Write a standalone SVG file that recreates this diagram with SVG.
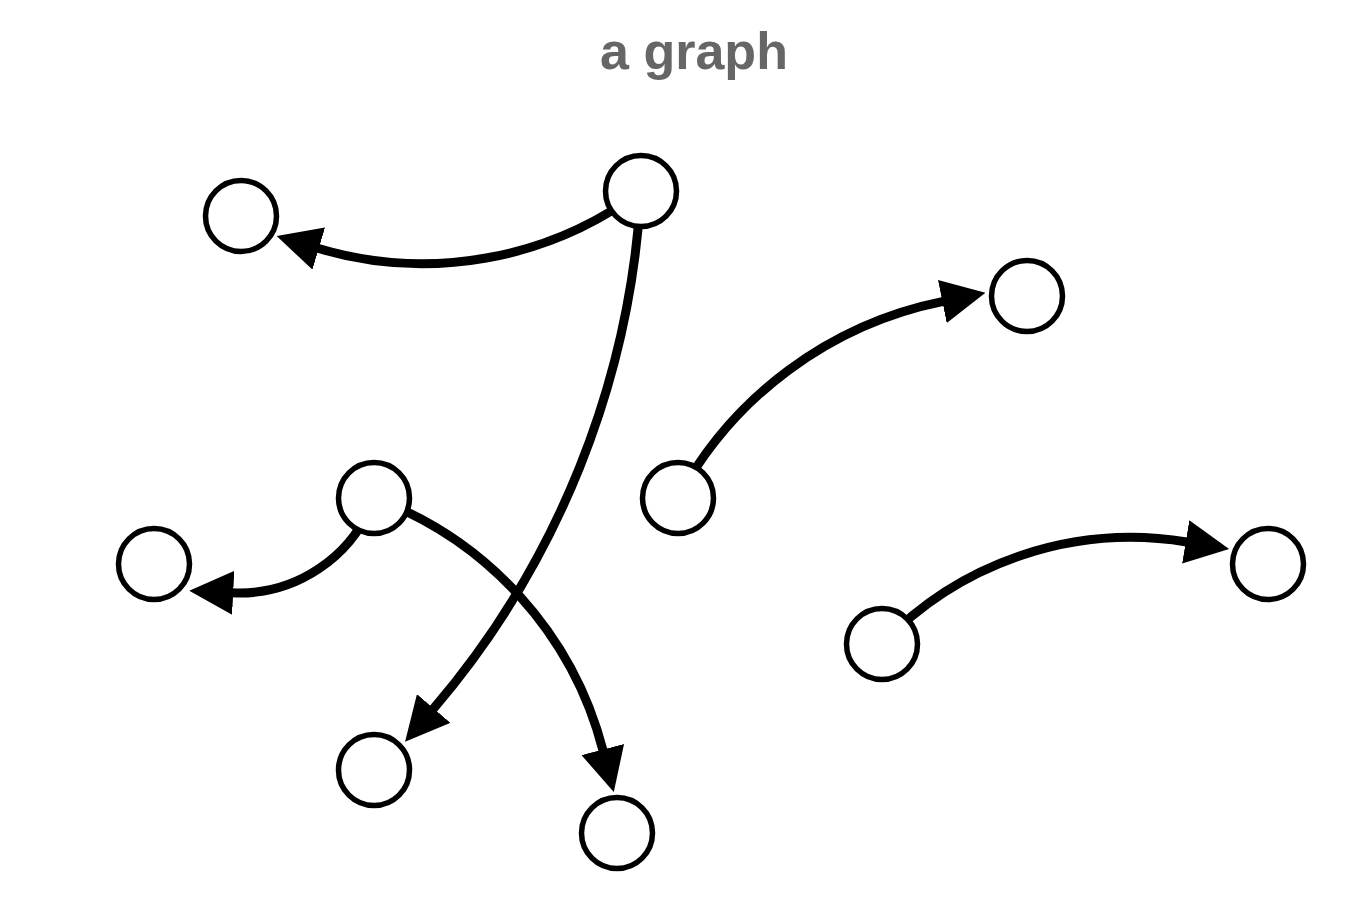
<svg xmlns="http://www.w3.org/2000/svg" width="1372" height="918" viewBox="0 0 1372 918">
  <style>
    .title { font-family: "Liberation Sans", Arial, sans-serif; font-weight: bold; font-size: 52px; fill: #666666; }
    .link { fill: none; stroke: #000000; stroke-width: 9; marker-end: url(#arrow); }
    .node circle { fill: #ffffff; stroke: #000000; stroke-width: 5.5; }
  </style>
  <defs>
    <marker id="arrow" markerUnits="userSpaceOnUse" viewBox="0 -22 44 44" refX="1" refY="0" markerWidth="44" markerHeight="44" orient="auto">
      <path d="M0,-22 L44,0 L0,22 Z" fill="#000000"/>
    </marker>
  </defs>
  <rect width="1372" height="918" fill="#ffffff"/>
  <text class="title" x="694" y="69" text-anchor="middle">a graph</text>
  <g id="links">
    <path id="link-A-B" class="link" d="M641,191 A365,365 0 0,1 317.8,248.3"/>
    <path id="link-A-I" class="link" d="M641,191 A871,871 0 0,1 433,709.2"/>
    <path id="link-E-C" class="link" d="M678,498 A388,388 0 0,1 943.3,301.3"/>
    <path id="link-D-F" class="link" d="M374,498 A143,143 0 0,1 232.2,592.8"/>
    <path id="link-D-J" class="link" d="M374,498 A367,367 0 0,1 603,750.5"/>
    <path id="link-H-G" class="link" d="M882,644 A344,344 0 0,1 1186.7,542"/>
  </g>
  <g id="node-A" class="node"><circle cx="641" cy="191" r="35.5"/></g>
  <g id="node-B" class="node"><circle cx="241" cy="216" r="35.5"/></g>
  <g id="node-C" class="node"><circle cx="1027" cy="296" r="35.5"/></g>
  <g id="node-D" class="node"><circle cx="374" cy="498" r="35.5"/></g>
  <g id="node-E" class="node"><circle cx="678" cy="498" r="35.5"/></g>
  <g id="node-F" class="node"><circle cx="154" cy="564" r="35.5"/></g>
  <g id="node-G" class="node"><circle cx="1268" cy="564" r="35.5"/></g>
  <g id="node-H" class="node"><circle cx="882" cy="644" r="35.5"/></g>
  <g id="node-I" class="node"><circle cx="374" cy="770" r="35.5"/></g>
  <g id="node-J" class="node"><circle cx="617" cy="833" r="35.5"/></g>
</svg>
